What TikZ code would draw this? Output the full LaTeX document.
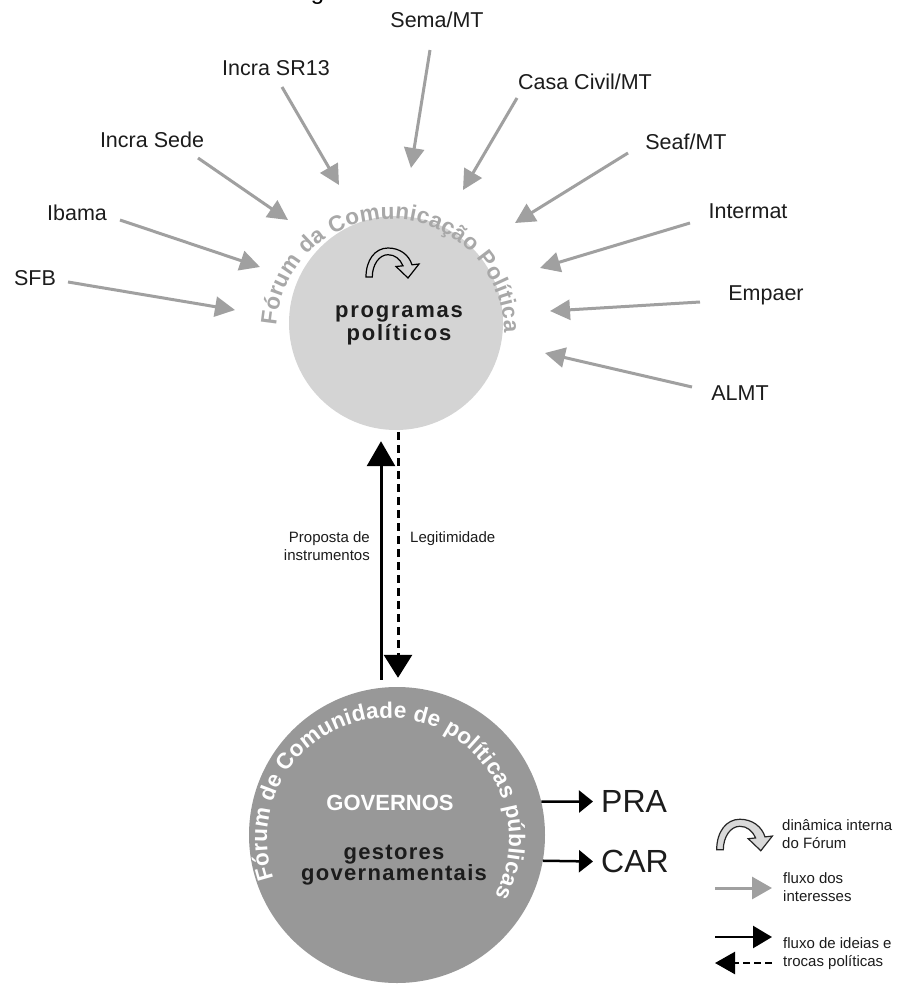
\documentclass[tikz,border=0pt]{standalone}
\usepackage{fontspec}
\setmainfont{Liberation Sans}
\usetikzlibrary{arrows.meta,decorations.text,calc}
\definecolor{topgray}{HTML}{D4D4D4}
\definecolor{toptext}{HTML}{A8A8A8}
\definecolor{arrgray}{HTML}{A0A0A0}
\definecolor{botgray}{HTML}{989898}
\definecolor{inkdark}{HTML}{1C1C1C}
\definecolor{legfill}{HTML}{D9D9D9}
\newcommand{\twoL}[3]{\begin{tabular}[t]{@{}#1@{}}#2\\#3\end{tabular}}
\newcommand{\topcurvefont}{\fontsize{22.5}{26}\selectfont\bfseries\color{toptext}}
\newcommand{\botcurvefont}{\fontsize{22.5}{26}\selectfont\bfseries\color{white}}
\tikzset{
  lbl/.style={anchor=base, inner sep=0pt, text=inkdark, font=\fontsize{21.5}{25}\selectfont},
  small/.style={inner sep=0pt, text=inkdark, font=\fontsize{15}{18.5}\selectfont},
  garrow/.style={draw=arrgray, line width=3pt, -{Triangle[length=20pt,width=20pt]}},
  ideaarrow/.style={draw=black, line width=3pt, -{Triangle[length=25pt,width=28pt]}},
  legitarrow/.style={draw=black, line width=3pt, dash pattern=on 8pt off 5pt, -{Triangle[length=23pt,width=28pt]}},
  outarrow/.style={draw=black, line width=2.5pt, -{Triangle[length=14pt,width=22pt]}},
  turnicon/.pic={
    \path[pic actions] (0,0) .. controls (0,17) and (9,29) .. (22,29)
      .. controls (34,29) and (43,22) .. (46,12.2) -- (53,13) -- (42,-1) -- (30,10.5) -- (37,11.2)
      .. controls (34,18) and (29,22.3) .. (22,22.3)
      .. controls (13,22.3) and (6.3,12) .. (6.3,0) -- cycle;
  }
}
\begin{document}
\begin{tikzpicture}[x=1pt,y=1pt]
\useasboundingbox (0,0) rectangle (898,-991);
\fill[white] (0,0) rectangle (898,-991);

% partial title
\node[anchor=base, inner sep=0pt, font=\fontsize{24}{28}\selectfont] (ttl) at (317.5,1) {g};

% circles
\node[circle, fill=topgray, minimum size=214pt, inner sep=0pt] (top) at (396,-323) {};
\node[circle, fill=botgray, minimum size=296pt, inner sep=0pt] (bot) at (397,-835) {};

% curved texts
\coordinate (tc) at (390,-333);
\coordinate (bc) at (388,-839);
\path[decorate, decoration={text along path, text align={fit to path},
  text={|\topcurvefont|Fórum da Comunicação Política}}]
  ($(tc)+(176:114)$) arc[start angle=176, end angle=0, radius=114];
\path[decorate, decoration={text along path, text align={fit to path},
  text={|\botcurvefont|Fórum de Comunidade de políticas públicas}}]
  ($(bc)+(199:121)$) arc[start angle=199, end angle=-28, radius=121];

% inner icon and texts
\pic[draw=black, fill=topgray, line width=1.2pt] at (366,-277) {turnicon};
\node[anchor=base, inner sep=0pt, text=inkdark,
  font=\fontsize{22}{23}\selectfont\bfseries\addfontfeature{LetterSpace=8}] (prog) at (399,-317)
  {\twoL{c}{programas}{políticos}};
\node[anchor=base, inner sep=0pt, text=white, font=\fontsize{22}{26}\selectfont\bfseries] (gov) at (390,-810) {GOVERNOS};
\node[anchor=base, inner sep=0pt, text=inkdark,
  font=\fontsize{22}{19}\selectfont\bfseries\addfontfeature{LetterSpace=6}] (gest) at (394,-859)
  {\twoL{c}{gestores}{governamentais}};

% actor labels
\node[lbl] (sfb) at (35,-285) {SFB};
\node[lbl] (ibama) at (77,-220) {Ibama};
\node[lbl] (isede) at (152,-147) {Incra Sede};
\node[lbl] (isr) at (276,-75) {Incra SR13};
\node[lbl] (sema) at (437,-27) {Sema/MT};
\node[lbl] (casa) at (585,-89) {Casa Civil/MT};
\node[lbl] (seaf) at (686,-149) {Seaf/MT};
\node[lbl] (inter) at (748,-218) {Intermat};
\node[lbl] (empa) at (766,-300) {Empaer};
\node[lbl] (almt) at (740,-400) {ALMT};

% interest arrows
\coordinate (s1) at (68,-282);  \coordinate (t1) at (235,-310);
\coordinate (s2) at (120,-220); \coordinate (t2) at (260,-267);
\coordinate (s3) at (198,-158); \coordinate (t3) at (288,-220);
\coordinate (s4) at (282,-87);  \coordinate (t4) at (339,-185);
\coordinate (s5) at (430,-50);  \coordinate (t5) at (411,-168);
\coordinate (s6) at (517,-98);  \coordinate (t6) at (463,-190);
\coordinate (s7) at (628,-153); \coordinate (t7) at (515,-223);
\coordinate (s8) at (690,-223); \coordinate (t8) at (540,-268);
\coordinate (s9) at (700,-302); \coordinate (t9) at (550,-311);
\coordinate (s10) at (692,-387); \coordinate (t10) at (545,-353);
\foreach \i in {1,...,10} \draw[garrow] (s\i) -- (t\i);

% exchange arrows
\draw[ideaarrow, shorten <=7pt, shorten >=11pt] ([xshift=-16pt]bot.north) -- ([xshift=-15pt]top.south);
\draw[legitarrow, shorten <=2pt, shorten >=9pt] ([xshift=2pt]top.south) -- ([xshift=1pt]bot.north);
\node[anchor=base east, small, font=\fontsize{15}{18.6}\selectfont] (prop) at (370,-542) {\twoL{r}{Proposta de}{instrumentos}};
\node[anchor=base west, small] (legit) at (410,-542) {Legitimidade};

% outputs
\node[anchor=west, inner sep=0pt, text=inkdark, font=\fontsize{32}{36}\selectfont] (pra) at (601,-801.5) {PRA};
\node[anchor=west, inner sep=0pt, text=inkdark, font=\fontsize{32}{36}\selectfont] (car) at (601,-861.5) {CAR};
\draw[outarrow] (bot.13.3) -- ([xshift=-8pt]pra.west);
\draw[outarrow] (bot.-10.3) -- ([xshift=-8pt]car.west);

% legend
\pic[draw=black!85, fill=legfill, line width=1.2pt, scale=1.05] at (716.7,-849.7) {turnicon};
\node[anchor=base west, small] (lg1) at (782,-830) {\twoL{l}{dinâmica interna}{do Fórum}};
\coordinate (lgA) at (715,-888); \coordinate (lgB) at (772,-888);
\draw[draw=arrgray, line width=3pt, -{Triangle[length=20pt,width=22pt]}] (lgA) -- (lgB);
\node[anchor=base west, small] (lg2) at (783,-883) {\twoL{l}{fluxo dos}{interesses}};
\coordinate (lgC) at (715,-937); \coordinate (lgD) at (772,-937);
\draw[draw=black, line width=2.5pt, -{Triangle[length=19pt,width=22pt]}] (lgC) -- (lgD);
\coordinate (lgE) at (772,-963); \coordinate (lgF) at (715,-963);
\draw[draw=black, line width=2.5pt, dash pattern=on 7pt off 4pt, -{Triangle[length=20pt,width=22pt]}] (lgE) -- (lgF);
\node[anchor=base west, small] (lg3) at (783,-948) {\twoL{l}{fluxo de ideias e}{trocas políticas}};
\end{tikzpicture}
\end{document}
